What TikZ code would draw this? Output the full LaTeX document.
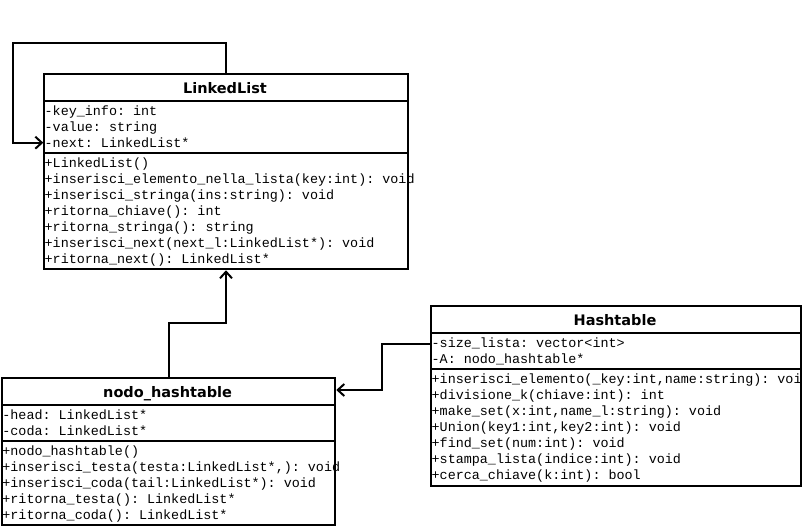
\documentclass[tikz,border=0pt]{standalone}
\usepackage{fontspec}
\setmonofont{Liberation Mono}
\newfontfamily\headfont{DejaVu Sans}
\usetikzlibrary{arrows.meta}
\begin{document}
\begin{tikzpicture}[x=1pt,y=-1pt,
  classbox/.style={draw, line width=2pt, rectangle, anchor=north west, inner sep=0pt},
  classname/.style={inner sep=0pt, text height=10.6pt, text depth=0pt,
    font=\headfont\bfseries\fontsize{14.5}{16}\selectfont},
  member/.style={anchor=mid west, inner sep=0pt,
    font=\ttfamily\fontsize{13.4}{16}\selectfont},
  divider/.style={line width=2pt},
  assoc/.style={line width=2pt, line join=miter,
    -{Straight Barb[length=6.5pt,width=12pt]}}
]
\useasboundingbox (0,0) rectangle (802,526);

% ---------- LinkedList ----------
\node[classbox, minimum width=363.4pt, minimum height=195.6pt] (ll) at (43.3,72.7) {};
\node[classname] (lltitle) at (225,88) {LinkedList};
\draw[divider] (ll.west |- 0,101) -- (ll.east |- 0,101);
\draw[divider] (ll.west |- 0,153) -- (ll.east |- 0,153);
\node[member] (llkey)  at (44.5,113.5) {-key\_info: int};
\node[member] (llval)  at (44.5,129.5) {-value: string};
\node[member] (llnext) at (44.5,145.5) {-next: LinkedList*};
\foreach \txt [count=\i from 0] in {
  {+LinkedList()},
  {+inserisci\_elemento\_nella\_lista(key:int): void},
  {+inserisci\_stringa(ins:string): void},
  {+ritorna\_chiave(): int},
  {+ritorna\_stringa(): string},
  {+inserisci\_next(next\_l:LinkedList*): void},
  {+ritorna\_next(): LinkedList*}}
  \node[member] (llm\i) at (44.5,165.3+16*\i) {\txt};

% ---------- nodo_hashtable ----------
\node[classbox, minimum width=333.3pt, minimum height=147.3pt] (nh) at (1,376.7) {};
\node[classname] (nhtitle) at (167.6,392) {nodo\_hashtable};
\draw[divider] (nh.west |- 0,405) -- (nh.east |- 0,405);
\draw[divider] (nh.west |- 0,441) -- (nh.east |- 0,441);
\node[member] (nhhead) at (2.2,417.3) {-head: LinkedList*};
\node[member] (nhcoda) at (2.2,433.3) {-coda: LinkedList*};
\foreach \txt [count=\i from 0] in {
  {+nodo\_hashtable()},
  {+inserisci\_testa(testa:LinkedList*,): void},
  {+inserisci\_coda(tail:LinkedList*): void},
  {+ritorna\_testa(): LinkedList*},
  {+ritorna\_coda(): LinkedList*}}
  \node[member] (nhm\i) at (2.2,453.3+16*\i) {\txt};

% ---------- Hashtable ----------
\node[classbox, minimum width=370pt, minimum height=180pt] (ht) at (430,305) {};
\node[classname] (httitle) at (615,320) {Hashtable};
\draw[divider] (ht.west |- 0,333) -- (ht.east |- 0,333);
\draw[divider] (ht.west |- 0,368.5) -- (ht.east |- 0,368.5);
\node[member] (htsize) at (431.5,345.3) {-size\_lista: vector<int>};
\node[member] (htA)    at (431.5,361.3) {-A: nodo\_hashtable*};
\foreach \txt [count=\i from 0] in {
  {+inserisci\_elemento(\_key:int,name:string): void},
  {+divisione\_k(chiave:int): int},
  {+make\_set(x:int,name\_l:string): void},
  {+Union(key1:int,key2:int): void},
  {+find\_set(num:int): void},
  {+stampa\_lista(indice:int): void},
  {+cerca\_chiave(k:int): bool}}
  \node[member] (htm\i) at (431.5,381+16*\i) {\txt};

% ---------- associations ----------
\coordinate (loopcorner) at (13.3,43.3);
\draw[assoc] (ll.north) |- (loopcorner) |- ([yshift=-70pt]ll.north west);
\draw[assoc] (nh.north) -- ++(0,-53.4) -| (ll.south);
\draw[assoc] (ht.west) ++(0,-51.7) -- ++(-48.3,0) |- ([yshift=-13.3pt]nh.north east);
\end{tikzpicture}
\end{document}
